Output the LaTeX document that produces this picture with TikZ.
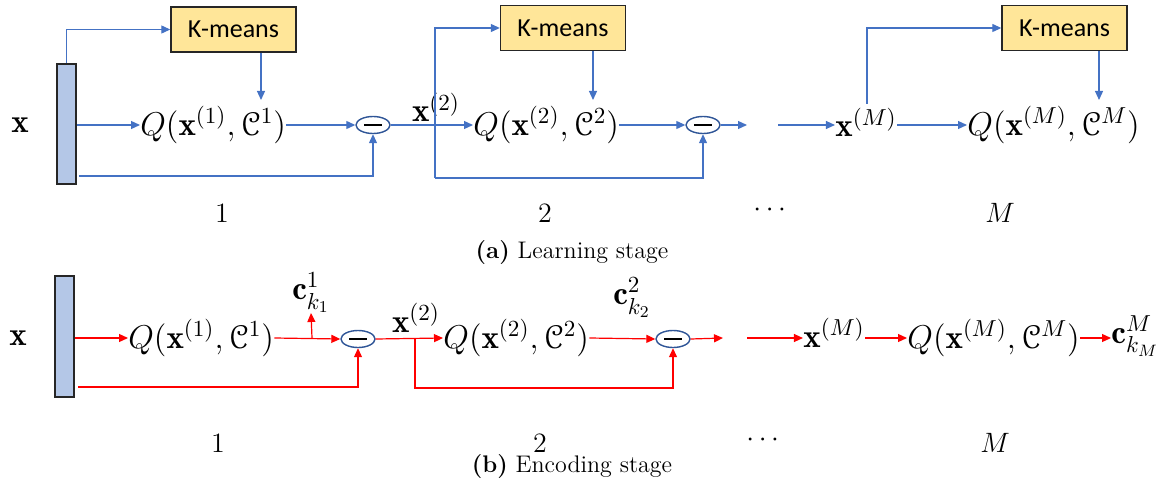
\RequirePackage{fix-cm}
\documentclass[tikz,border=0pt]{standalone}
\usepackage{amsmath}
\usepackage[mathcal]{eucal}
\usepackage{fontspec}
\newfontfamily\kmfont{Carlito}
\usetikzlibrary{arrows.meta,shapes.geometric,calc}
\definecolor{arrblue}{HTML}{4472C4}
\definecolor{arrred}{HTML}{FF0000}
\definecolor{barfill}{HTML}{B4C7E7}
\definecolor{kmfill}{HTML}{FFE699}
\definecolor{ellblue}{HTML}{2F5597}
\tikzset{
  ba/.style={draw=arrblue, line width=0.6pt, -{Triangle[length=4.5pt,width=4pt]}},
  ra/.style={draw=arrred, line width=0.6pt, -{Triangle[length=4.5pt,width=4pt]}},
  vbar/.style={draw=black!85, line width=0.8pt, fill=barfill, minimum width=9.5pt, minimum height=60pt, inner sep=0pt},
  km/.style={draw=black!85, line width=0.7pt, fill=kmfill, minimum width=62.5pt, minimum height=22.5pt, inner sep=0pt, font=\kmfont\fontsize{13}{15}\selectfont},
  expr/.style={inner sep=0pt, font=\fontsize{16.5}{19}\selectfont},
  lbl/.style={inner sep=0pt, font=\fontsize{14}{17}\selectfont},
  captext/.style={inner sep=0pt, font=\fontsize{12}{14}\selectfont},
  minus/.style={ellipse, draw=ellblue, line width=0.7pt, fill=white, minimum width=17pt, minimum height=8.5pt, inner sep=0pt},
  minusbar/.style={draw=black, line width=1.1pt},
}
\begin{document}
\begin{tikzpicture}[x=0.5pt,y=-0.5pt]
\useasboundingbox (0,0) rectangle (1170,486);
% ---------- (a) Learning stage ----------
\coordinate (rowA) at (0,125);
\node[expr] (xa) at (20,125) {$\mathbf{x}$};
\node[vbar] (bar1) at (66.5,124) {};
\node[km] (km1) at (233.5,29.5) {K-means};
\node[km] (km2) at (563,28) {K-means};
\node[km] (km3) at (1064.5,28) {K-means};
\node[expr, anchor=west] (q1) at (140,125) {$Q(\mathbf{x}^{(1)},\mathcal{C}^1)$};
\node[expr, anchor=west] (q2) at (473,125) {$Q(\mathbf{x}^{(2)},\mathcal{C}^2)$};
\node[expr, anchor=west] (qM) at (967,125) {$Q(\mathbf{x}^{(M)},\mathcal{C}^M)$};
\node[expr, anchor=base] (x2a) at (436,122) {$\mathbf{x}^{(2)}$};
\node[expr, anchor=base] (xMa) at (866,137) {$\mathbf{x}^{(M)}$};
\node[minus] (m1) at (373,125) {};
\node[minus] (m2) at (703,125) {};
\draw[minusbar] ($(m1.center)+(-9,0)$) -- ($(m1.center)+(9,0)$);
\draw[minusbar] ($(m2.center)+(-9,0)$) -- ($(m2.center)+(9,0)$);
\coordinate (k1d) at (261,100);
\coordinate (k2d) at (593,100);
\coordinate (k3d) at (1099,100);
\coordinate (fb1) at (79,176);
\coordinate (j2) at (435,178);
\coordinate (e2) at (747,125);
\coordinate (s3) at (778,125);
\coordinate (bM) at (867,104);
\draw[ba] (bar1.north) |- (km1.west);
\draw[ba] (km1.south -| k1d) -- (k1d);
\draw[ba] (bar1.east |- rowA) -- (q1.west);
\draw[ba] (q1.east) -- (m1.west);
\draw[ba] (fb1) -| (m1.south);
\draw[ba] (m1.east) -- (q2.west);
\draw[ba] (j2) |- (km2.west);
\draw[ba] (j2) -| (m2.south);
\draw[ba] (km2.south -| k2d) -- (k2d);
\draw[ba] (q2.east) -- (m2.west);
\draw[ba] (m2.east) -- (e2);
\draw[ba] (s3) -- (s3 -| xMa.west);
\draw[ba] (xMa.east |- rowA) -- (qM.west);
\draw[ba] (bM) |- (km3.west);
\draw[ba] (km3.south -| k3d) -- (k3d);
\node[lbl] (n1a) at (222,213) {$1$};
\node[lbl] (n2a) at (545,213) {$2$};
\node[lbl] (nda) at (772,210) {$\cdots$};
\node[lbl] (nMa) at (1000,213) {$M$};
\node[captext] (capa) at (572,253) {\textbf{(a)} Learning stage};
% ---------- (b) Encoding stage ----------
\coordinate (rowB) at (0,338);
\node[expr] (xb) at (18,338) {$\mathbf{x}$};
\node[vbar, minimum height=60.5pt] (bar2) at (64.5,336.5) {};
\node[expr, anchor=west] (qb1) at (128,338) {$Q(\mathbf{x}^{(1)},\mathcal{C}^1)$};
\node[expr, anchor=west] (qb2) at (443,338) {$Q(\mathbf{x}^{(2)},\mathcal{C}^2)$};
\node[expr, anchor=west] (qbM) at (907,338) {$Q(\mathbf{x}^{(M)},\mathcal{C}^M)$};
\node[expr, anchor=base] (x2b) at (416,332) {$\mathbf{x}^{(2)}$};
\node[expr, anchor=base] (xMb) at (834,347) {$\mathbf{x}^{(M)}$};
\node[expr, anchor=south] (ck1) at (311,313) {$\mathbf{c}^1_{k_1}$};
\node[expr] (ck2) at (632,298) {$\mathbf{c}^2_{k_2}$};
\node[expr, anchor=base west] (ckM) at (1111,343) {$\mathbf{c}^M_{k_M}$};
\node[minus] (mb1) at (358,339) {};
\node[minus] (mb2) at (673,339) {};
\draw[minusbar] ($(mb1.center)+(-9,0)$) -- ($(mb1.center)+(9,0)$);
\draw[minusbar] ($(mb2.center)+(-9,0)$) -- ($(mb2.center)+(9,0)$);
\coordinate (cb1) at (312,338);
\coordinate (fbb1) at (78,387);
\coordinate (jb2) at (415,338);
\coordinate (bb2) at (415,388);
\coordinate (eb2) at (723,338);
\coordinate (sb3) at (747,338);
\draw[ra] (bar2.east |- rowB) -- (qb1.west);
\draw[ra] (qb1.east) -- (mb1.west);
\draw[ra] (cb1) -- (ck1.south);
\draw[ra] (fbb1) -| (mb1.south);
\draw[ra] (mb1.east) -- (qb2.west);
\draw[ra] (jb2) -- (bb2) -| (mb2.south);
\draw[ra] (qb2.east) -- (mb2.west);
\draw[ra] (mb2.east) -- (eb2);
\draw[ra] (sb3) -- (sb3 -| xMb.west);
\draw[ra] (xMb.east |- rowB) -- (qbM.west);
\draw[ra] (qbM.east) -- (ckM.west |- rowB);
\node[lbl] (n1b) at (218,443) {$1$};
\node[lbl] (n2b) at (540,443) {$2$};
\node[lbl] (ndb) at (765,440) {$\cdots$};
\node[lbl] (nMb) at (995,443) {$M$};
\node[captext] (capb) at (572,467) {\textbf{(b)} Encoding stage};
\end{tikzpicture}
\end{document}
